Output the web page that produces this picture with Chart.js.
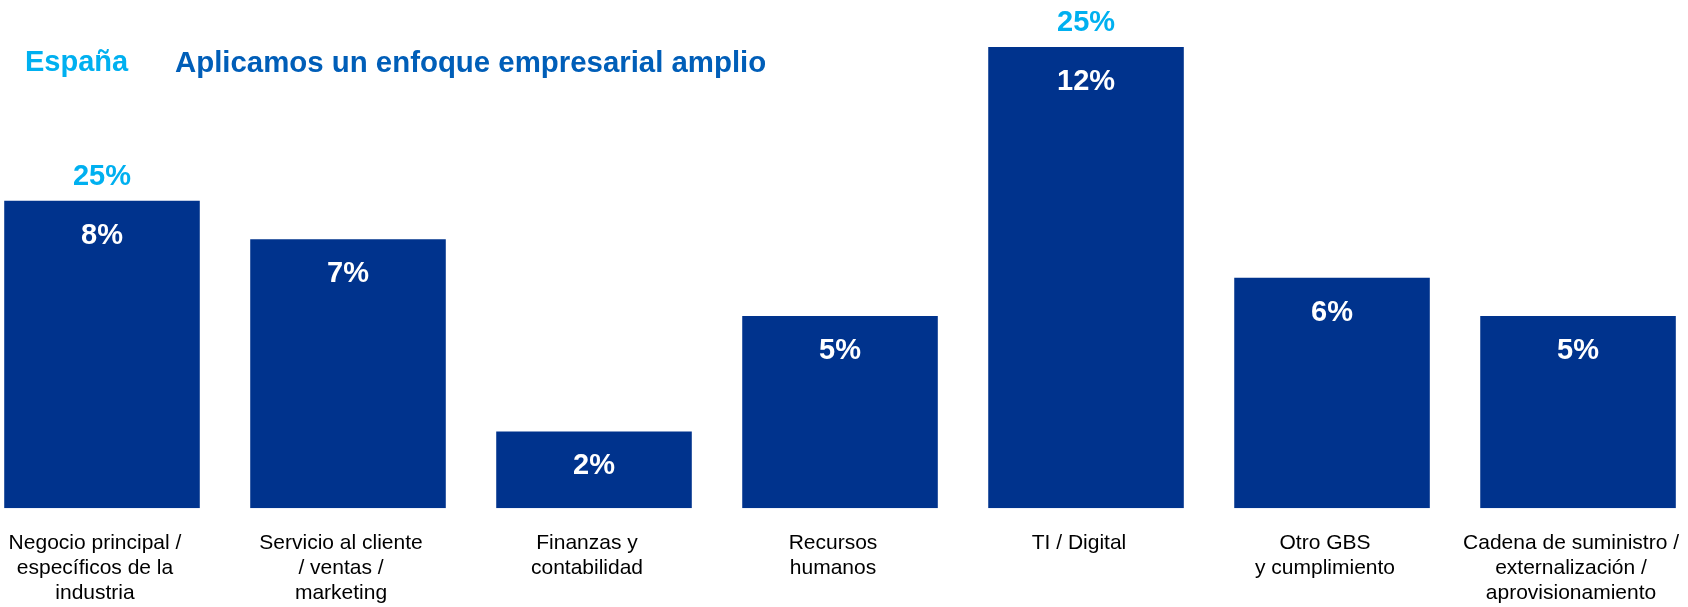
<!DOCTYPE html>
<html>
<head>
<meta charset="utf-8">
<script src="https://cdn.jsdelivr.net/npm/chart.js@4.4.1/dist/chart.umd.min.js"></script>
<style>
  html, body { margin: 0; padding: 0; background: #fff; }
  #wrap { position: relative; width: 1688px; height: 607px; overflow: hidden; }
  #chart { position: absolute; left: -21px; top: 0; }
  .head { position: absolute; font-family: "Liberation Sans", Arial, sans-serif; font-weight: bold; font-size: 29px; line-height: 32px; white-space: nowrap; }
  #region { left: 25px; top: 45px; color: #00b0f0; }
  #title { left: 175px; top: 46px; color: #005eb8; font-size: 29.4px; }
</style>
</head>
<body>
<div id="wrap">
  <canvas id="chart" width="1730" height="628"></canvas>
  <div class="head" id="region">España</div>
  <div class="head" id="title">Aplicamos un enfoque empresarial amplio</div>
</div>
<script>
// business areas, one line per array entry
const areas = [
  ['Negocio principal /', 'específicos de la', 'industria'],
  ['Servicio al cliente', '/ ventas /', 'marketing'],
  ['Finanzas y', 'contabilidad'],
  ['Recursos', 'humanos'],
  ['TI / Digital'],
  ['Otro GBS', 'y cumplimiento'],
  ['Cadena de suministro /', 'externalización /', 'aprovisionamiento']
];
// share per area (%)
const shares = [8, 7, 2, 5, 12, 6, 5];
// callout figures shown above some bars (%)
const highlights = [25, null, null, null, 25, null, null];

const FONT = '"Liberation Sans", Arial, sans-serif';

// white value inside each bar, light-blue callout above
const barLabels = {
  id: 'barLabels',
  afterDatasetsDraw(chart) {
    const ctx = chart.ctx;
    const bars = chart.getDatasetMeta(0).data;
    ctx.save();
    ctx.font = 'bold 29px ' + FONT;
    ctx.textAlign = 'center';
    ctx.textBaseline = 'middle';
    bars.forEach((bar, i) => {
      ctx.fillStyle = '#ffffff';
      ctx.fillText(shares[i] + '%', bar.x, bar.y + 35);
      if (highlights[i] != null) {
        ctx.fillStyle = '#00b0f0';
        ctx.fillText(highlights[i] + '%', bar.x, bar.y - 24);
      }
    });
    ctx.restore();
  }
};

new Chart(document.getElementById('chart'), {
  type: 'bar',
  data: {
    labels: areas,
    datasets: [{
      data: shares,
      backgroundColor: '#00338d',
      categoryPercentage: 1,
      barPercentage: 0.795
    }]
  },
  options: {
    responsive: false,
    animation: false,
    layout: { padding: { top: 47, left: 0, right: 0, bottom: 0 } },
    plugins: {
      legend: { display: false },
      tooltip: { enabled: false }
    },
    scales: {
      x: {
        grid: { display: false, drawTicks: false },
        border: { display: false },
        ticks: {
          color: '#000',
          font: { family: FONT, size: 21, lineHeight: 1.17 },
          padding: 23,
          labelOffset: -7,
          autoSkip: false,
          maxRotation: 0,
          minRotation: 0
        }
      },
      y: { display: false, min: 0, max: 12 }
    }
  },
  plugins: [barLabels]
});
</script>
</body>
</html>
